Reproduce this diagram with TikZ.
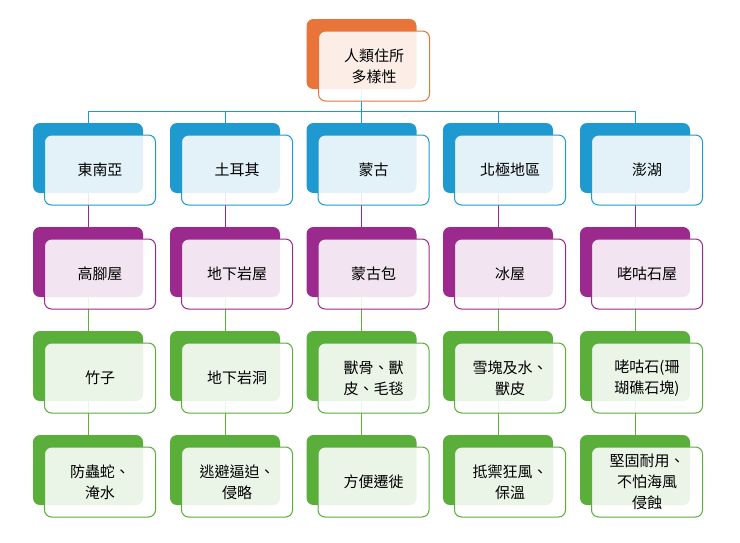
\documentclass[tikz,border=0pt]{standalone}
\usepackage{fontspec}
\setmainfont{Noto Sans CJK TC}
\begin{document}
\begin{tikzpicture}[x=1pt,y=-1pt,
  back/.style={draw=none,fill=#1,rounded corners=7pt,minimum width=110pt,minimum height=70pt,inner sep=0pt},
  front/.style={draw=#1,line width=1pt,fill=white,fill opacity=0.88,text opacity=1,rounded corners=7pt,minimum width=111pt,minimum height=70pt,inner sep=0pt,align=center,font=\fontsize{15}{21}\selectfont},
  link/.style={draw=#1,line width=1pt}]
\definecolor{cO}{HTML}{E8743A}
\definecolor{cB}{HTML}{1E9AD0}
\definecolor{cP}{HTML}{9C2A8E}
\definecolor{cG}{HTML}{5AAE3A}
\useasboundingbox (0,0) rectangle (740,542);
% back boxes
\node[back=cO] (tb) at (361.5,54) {};
\foreach \c/\x in {1/88,2/225,3/361.5,4/498,5/635}{
  \node[back=cB] (b1\c) at (\x,158) {};
  \node[back=cP] (b2\c) at (\x,262) {};
  \node[back=cG] (b3\c) at (\x,366) {};
  \node[back=cG] (b4\c) at (\x,470) {};
}
% connectors
\coordinate (hub) at (361.5,111);
\draw[link=cB] (tb.south) -- (hub);
\foreach \c in {1,...,5}{
  \draw[link=cB] (hub) -| (b1\c.north);
  \draw[link=cP] (b1\c.south) -- (b2\c.north);
  \draw[link=cG] (b2\c.south) -- (b3\c.north);
  \draw[link=cG] (b3\c.south) -- (b4\c.north);
}
% front boxes
\node[front=cO] (t) at (374,66) {人類住所\\多樣性};
\node[front=cB] (f11) at (100,170) {東南亞};
\node[front=cB] (f12) at (237,170) {土耳其};
\node[front=cB] (f13) at (373.5,170) {蒙古};
\node[front=cB] (f14) at (510,170) {北極地區};
\node[front=cB] (f15) at (647,170) {澎湖};
\node[front=cP] (f21) at (100,274) {高腳屋};
\node[front=cP] (f22) at (237,274) {地下岩屋};
\node[front=cP] (f23) at (373.5,274) {蒙古包};
\node[front=cP] (f24) at (510,274) {冰屋};
\node[front=cP] (f25) at (647,274) {咾咕石屋};
\node[front=cG] (f31) at (100,378) {竹子};
\node[front=cG] (f32) at (237,378) {地下岩洞};
\node[front=cG] (f33) at (373.5,378) {獸骨、獸\\皮、毛毯};
\node[front=cG] (f34) at (510,378) {雪塊及水、\\獸皮};
\node[front=cG] (f35) at (647,378) {咾咕石(珊\\瑚礁石塊)};
\node[front=cG] (f41) at (100,482) {防蟲蛇、\\淹水};
\node[front=cG] (f42) at (237,482) {逃避逼迫、\\侵略};
\node[front=cG] (f43) at (373.5,482) {方便遷徙};
\node[front=cG] (f44) at (510,482) {抵禦狂風、\\保溫};
\node[front=cG] (f45) at (647,482) {堅固耐用、\\不怕海風\\侵蝕};
\end{tikzpicture}
\end{document}
